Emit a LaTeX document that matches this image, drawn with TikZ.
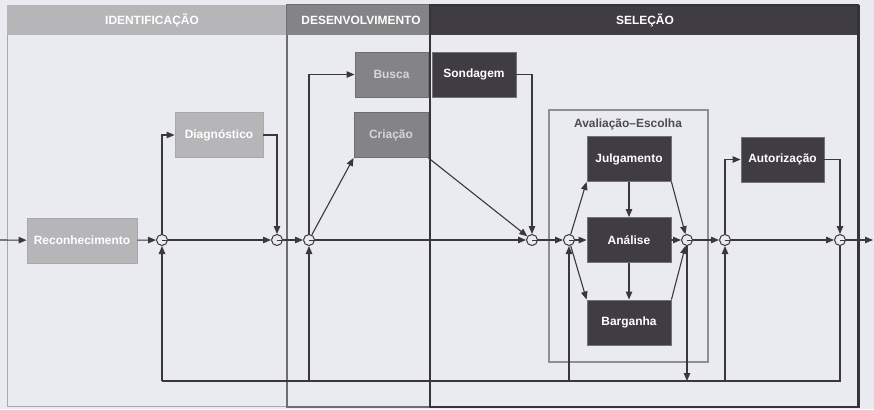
\documentclass[tikz,border=0pt]{standalone}
\usepackage{fontspec}
\setmainfont{Liberation Sans}
\usetikzlibrary{arrows.meta}

\definecolor{paper}{HTML}{E9EBF0}
\definecolor{ink}{HTML}{3A3642}
\definecolor{idfill}{HTML}{B6B6B9}
\definecolor{idline}{HTML}{A9A9AD}
\definecolor{devfill}{HTML}{848487}
\definecolor{devline}{HTML}{6E6E72}
\definecolor{devtext}{HTML}{D6D6D9}
\definecolor{selfill}{HTML}{403C43}
\definecolor{selline}{HTML}{37333A}
\definecolor{evalline}{HTML}{8E8E93}

\tikzset{
  lbl/.style={font=\fontsize{12}{14}\selectfont\bfseries, inner sep=0pt},
  boxbase/.style={lbl, minimum height=45bp, line width=0.9bp},
  idbox/.style={boxbase, fill=idfill, draw=idline, text=white},
  devbox/.style={boxbase, fill=devfill, draw=devline, text=devtext},
  selbox/.style={boxbase, fill=selfill, draw=black!55, text=white},
  junction/.style={circle, draw=ink, fill=paper, line width=1bp,
    minimum size=11bp, inner sep=0pt,
    path picture={\draw[ink, line width=1bp]
      (path picture bounding box.center) -- (path picture bounding box.east);}},
  link/.style={draw=ink, line width=1.1bp},
  arr/.style={link, -{Triangle[length=8bp,width=6.5bp]}},
  hdrtext/.style={lbl, text=white},
}

\begin{document}
\begin{tikzpicture}[x=1bp, y=-1bp]
\fill[paper] (0,0) rectangle (874,409);
\useasboundingbox (0,0) rectangle (874,409);

% ---- phase panels ----
\draw[idline, line width=1bp] (7,5) rectangle (287,406);
\fill[idfill] (7,5) rectangle (287,35);
\draw[devline, line width=1.2bp] (287,5) rectangle (430,407);
\fill[devfill] (287,5) rectangle (430,35);
\fill[selfill] (430,5) rectangle (858,35);
\draw[selline, line width=1.6bp] (430,5) rectangle (858,407);
\draw[selline, line width=3bp] (858,5) -- (858,408);
\draw[selline, line width=2bp] (430,407) -- (859,407);

\node[hdrtext] (hid)  at (152,20.5) {IDENTIFICAÇÃO};
\node[hdrtext] (hdev) at (361,20.5) {DESENVOLVIMENTO};
\node[hdrtext] (hsel) at (645,20.5) {SELEÇÃO};

% ---- evaluation-choice frame ----
\node[draw=evalline, line width=1.5bp, minimum width=159bp, minimum height=252bp,
      inner sep=0pt] (aval) at (628.5,236) {};
\node[lbl, text=ink!90] (avalt) at (628,124) {Avaliação--Escolha};

% ---- routines ----
\node[idbox, minimum width=110bp] (rec)  at (82,240.5)  {Reconhecimento};
\node[idbox, minimum width=88bp]  (diag) at (219,135)   {Diagnóstico};
\node[devbox, minimum width=73bp] (busca) at (391.5,74.5) {Busca};
\node[devbox, minimum width=74bp] (cria) at (391,135)   {Criação};
\node[selbox, minimum width=84bp] (sond) at (474,74.5)  {Sondagem};
\node[selbox, minimum width=84bp] (julg) at (629,159)   {Julgamento};
\node[selbox, minimum width=84bp] (anal) at (629,240)   {Análise};
\node[selbox, minimum width=84bp] (barg) at (629,322.5) {Barganha};
\node[selbox, minimum width=83bp] (aut)  at (782.5,159.5) {Autorização};

% ---- junctions ----
\node[junction] (c1) at (162,240) {};
\node[junction] (c2) at (277,240) {};
\node[junction] (c3) at (309,240) {};
\node[junction] (c4) at (532,240) {};
\node[junction] (c5) at (569,240) {};
\node[junction] (c6) at (687,240) {};
\node[junction] (c7) at (725,240) {};
\node[junction] (c8) at (840,240) {};

\coordinate (in)  at (0,240);
\coordinate (out) at (873,240);
\coordinate (bus1) at (162,381);
\coordinate (bus3) at (309,381);
\coordinate (bus5) at (569,381);
\coordinate (bus6) at (687,381);
\coordinate (bus7) at (725,381);
\coordinate (bus8) at (840,381);

% ---- main flow ----
\draw[arr] (in) -- (rec);
\draw[arr] (rec) -- (c1);
\draw[arr] (c1.east) -- (c2);
\draw[arr] (c1) |- (diag);
\draw[arr] (diag) -| (c2);
\draw[arr] (c2.east) -- (c3);
\draw[arr] (c3) |- (busca);
\draw[arr] (c3) -- (cria.south west);
\draw[arr] (cria.south east) -- (c4);
\draw[arr] (sond) -| (c4);
\draw[arr] (c3.east) -- (c4);
\draw[arr] (c4.east) -- (c5);
\draw[arr] (c5) -- (julg.south west);
\draw[arr] (c5.east) -- (anal);
\draw[arr] (c5) -- (barg.north west);
\draw[arr] (julg) -- (anal);
\draw[arr] (anal) -- (barg);
\draw[arr] (anal) -- (c6);
\draw[arr] (julg.south east) -- (c6);
\draw[arr] (barg.north east) -- (c6);
\draw[arr] (c6.east) -- (c7);
\draw[arr] (c7) |- (aut);
\draw[arr] (aut) -| (c8);
\draw[arr] (c7.east) -- (c8);
\draw[arr] (c8.east) -- (out);

% ---- feedback bus ----
\draw[link] (c8) -- (bus8) -- (bus1);
\draw[arr] (c6) -- (bus6);
\draw[arr] (bus1) -- (c1);
\draw[arr] (bus3) -- (c3);
\draw[arr] (bus5) -- (c5);
\draw[arr] (bus7) -- (c7);
\end{tikzpicture}
\end{document}
